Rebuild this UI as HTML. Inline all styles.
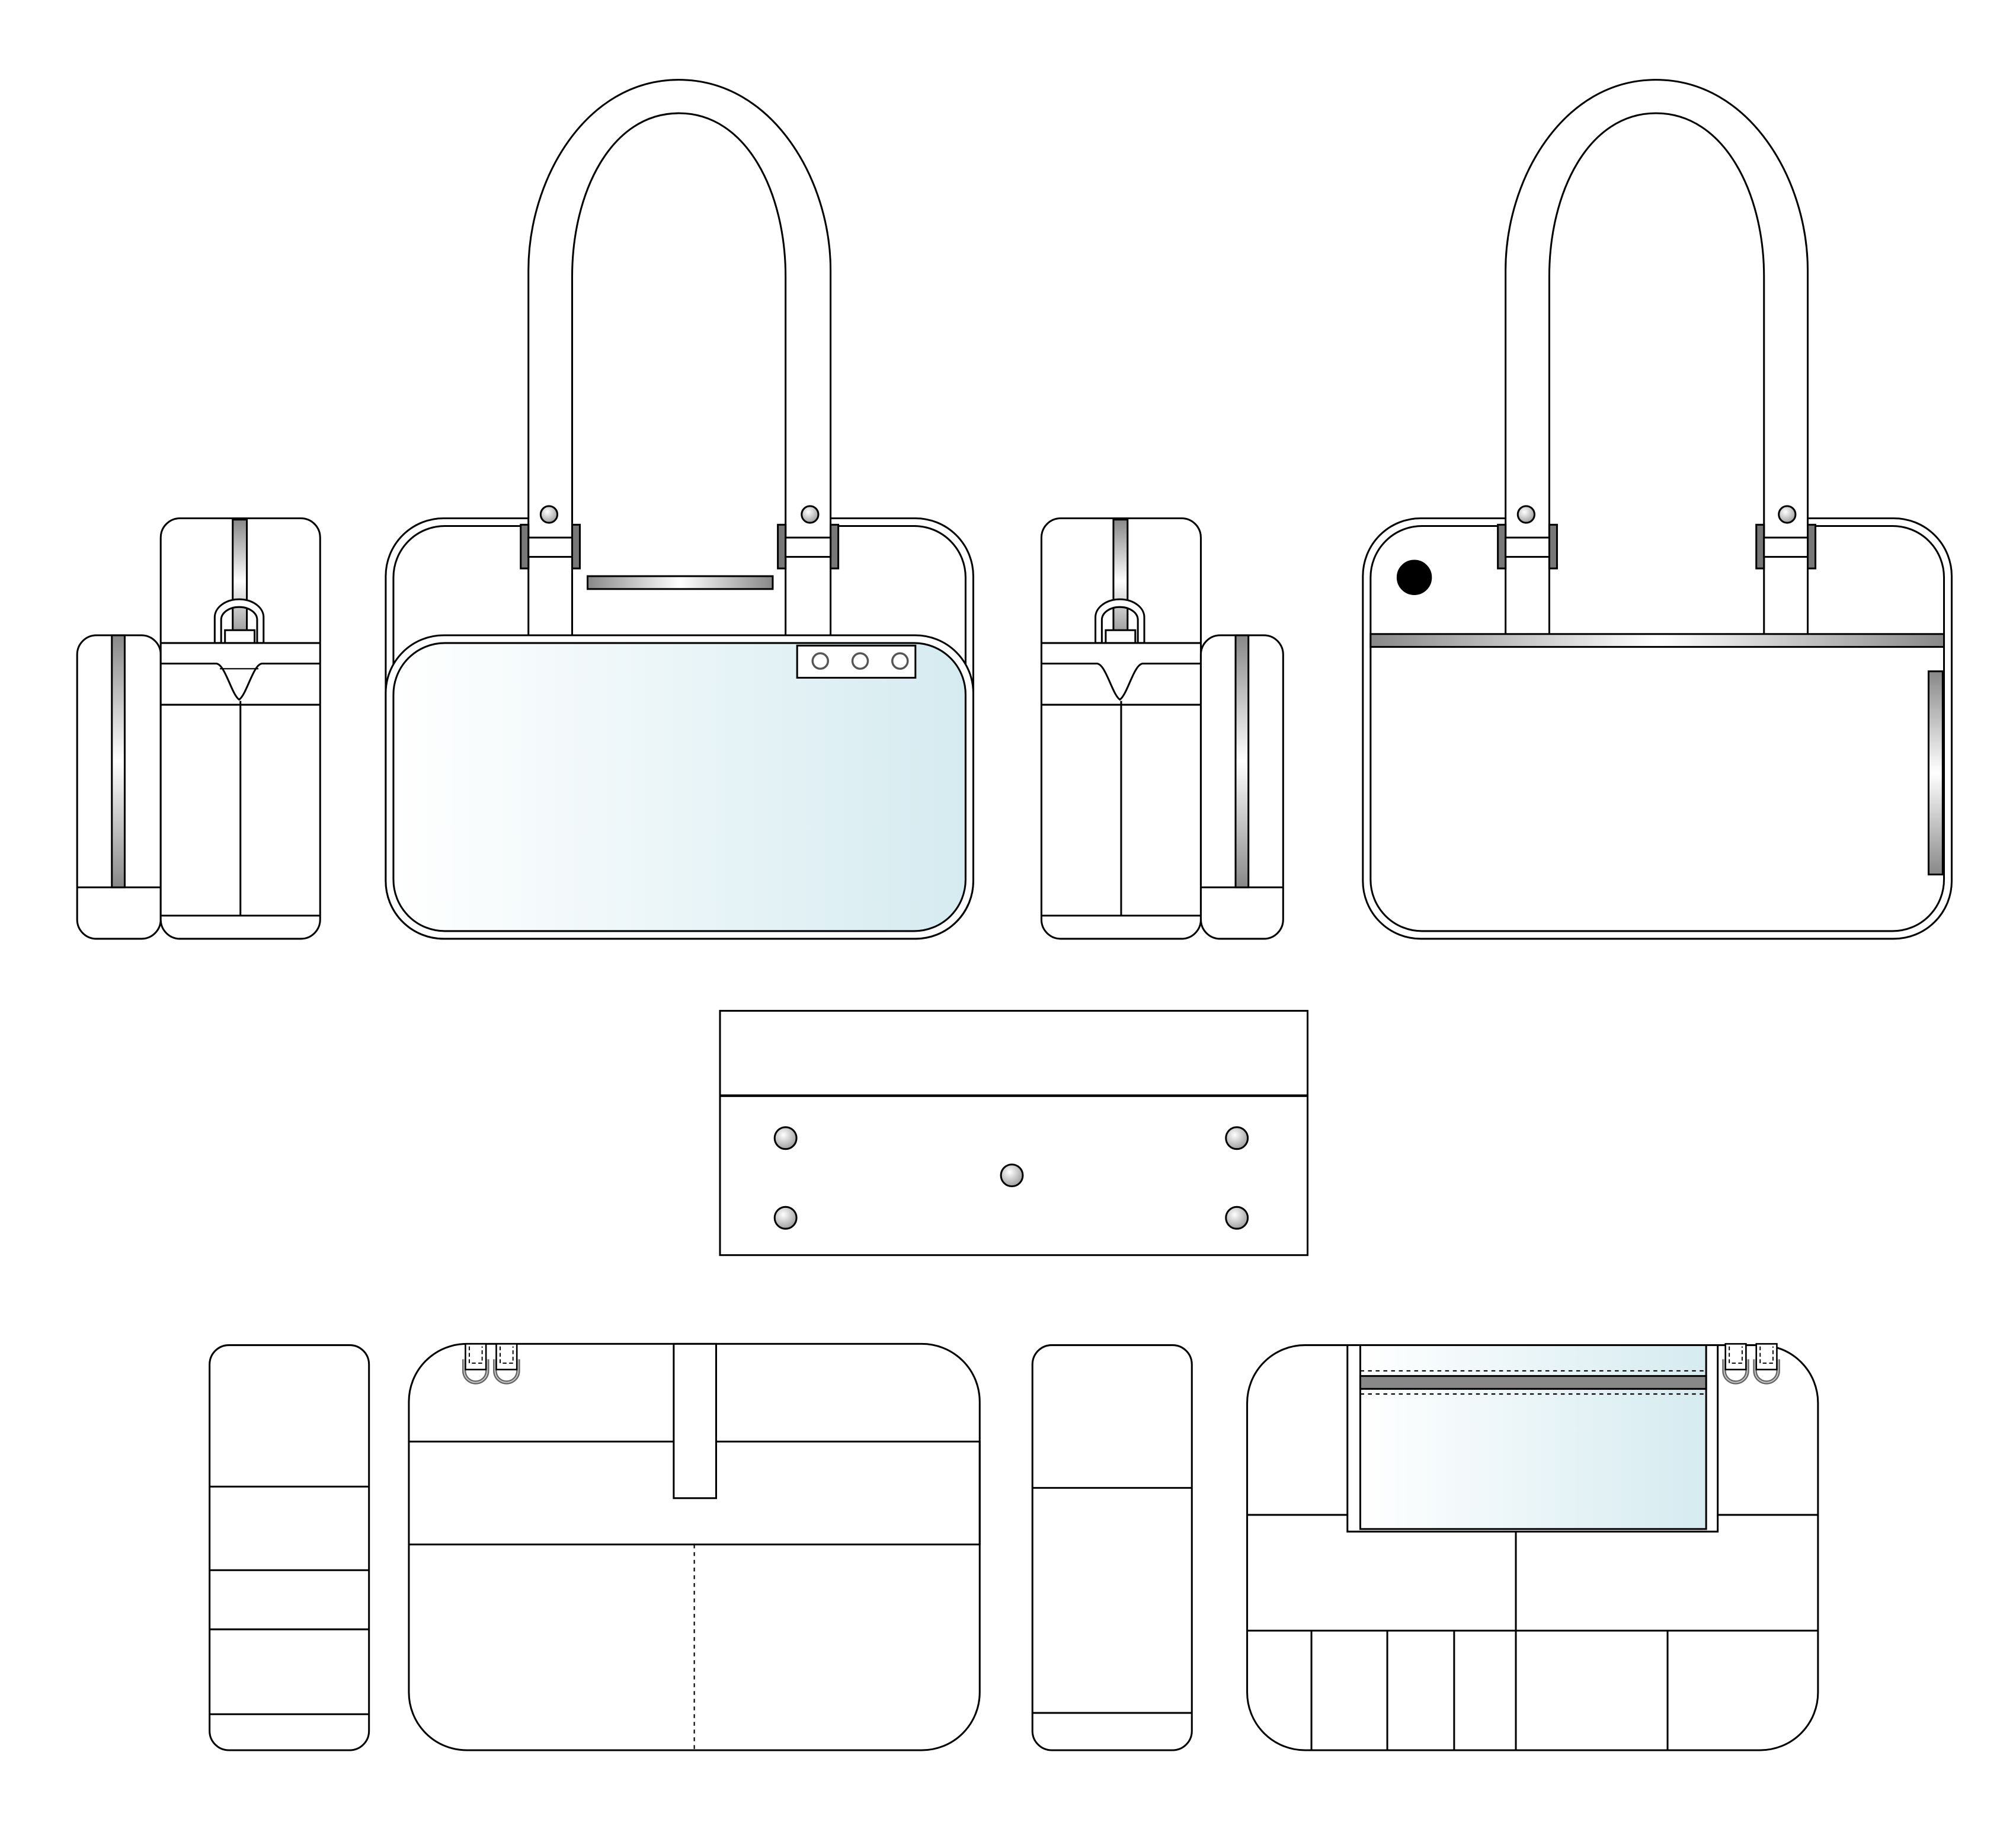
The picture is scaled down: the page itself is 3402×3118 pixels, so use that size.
<!DOCTYPE html>
<html><head><meta charset="utf-8">
<style>html,body{margin:0;padding:0;background:#fff}svg{display:block}</style>
</head><body>
<svg width="3402" height="3118" viewBox="0 0 1568 1437" xmlns="http://www.w3.org/2000/svg" fill="none" stroke="#000" stroke-width="1.4">
<defs>
<linearGradient id="gv" x1="0" y1="0" x2="0" y2="1"><stop offset="0" stop-color="#888"/><stop offset="0.5" stop-color="#fff"/><stop offset="1" stop-color="#888"/></linearGradient>
<linearGradient id="gh" x1="0" y1="0" x2="1" y2="0"><stop offset="0" stop-color="#888"/><stop offset="0.5" stop-color="#fff"/><stop offset="1" stop-color="#888"/></linearGradient>
<linearGradient id="blue" x1="0" y1="0" x2="1" y2="0"><stop offset="0" stop-color="#fff"/><stop offset="1" stop-color="#d5ebf0"/></linearGradient>
<radialGradient id="dot" cx="0.4" cy="0.35" r="0.7"><stop offset="0" stop-color="#fff"/><stop offset="1" stop-color="#999"/></radialGradient>
<g id="dring">
<path d="M-9 12 V21 A9 9 0 0 0 9 21 V12" stroke="#666" stroke-width="3"/>
<path d="M-9 12 V21 A9 9 0 0 0 9 21 V12" stroke="#ccc" stroke-width="0.8"/>
<rect x="-8" y="0" width="16" height="20" fill="#fff" stroke="#000" stroke-width="1.2"/>
<path d="M-5 2 V15 H5 V2" stroke="#000" stroke-width="0.9" stroke-dasharray="3 2"/>
</g>
</defs>
<rect width="1568" height="1437" fill="#fff" stroke="none"/>

<!-- LEFT SIDE VIEW -->
<rect x="60" y="494" width="65" height="236" rx="15" fill="#fff"/>
<line x1="60" y1="690" x2="125" y2="690"/>
<rect x="87" y="494" width="10" height="196" fill="url(#gv)"/>
<rect x="125" y="403" width="124" height="327" rx="15" fill="#fff"/>
<rect x="181" y="404" width="11" height="96" fill="url(#gv)"/>
<path d="M167 500 V480 A19 14 0 0 1 205 480 V500 H200 V482 A14 10 0 0 0 172 482 V500 Z" fill="#fff"/>
<rect x="175" y="490" width="23" height="10" fill="#fff"/>
<line x1="125" y1="500" x2="249" y2="500"/>
<path d="M125 516 H168 C175 516 180 540 186 544 C192 540 197 516 204 516 H249"/>
<line x1="171" y1="520" x2="201" y2="520" stroke-width="1"/>
<line x1="125" y1="548" x2="249" y2="548"/>
<line x1="187" y1="545" x2="187" y2="712"/>
<line x1="125" y1="712" x2="249" y2="712"/>

<!-- FRONT BAG -->
<rect x="300" y="403" width="457" height="327" rx="45" fill="#fff"/>
<rect x="306" y="409" width="445" height="315" rx="40"/>
<path d="M411 494 V210 C411 140 455 62 528 62 C601 62 646 140 646 210 V494" fill="#fff"/>
<path d="M445 494 V215 C445 150 475 88 528 88 C581 88 611 150 611 215 V494"/>
<rect x="405" y="408" width="6" height="34" fill="#777"/><rect x="445" y="408" width="6" height="34" fill="#777"/>
<rect x="605" y="408" width="6" height="34" fill="#777"/><rect x="646" y="408" width="6" height="34" fill="#777"/>
<rect x="411" y="418" width="34" height="15" fill="#fff"/><rect x="611" y="418" width="35" height="15" fill="#fff"/>
<circle cx="427" cy="400" r="6.5" fill="url(#dot)"/><circle cx="630" cy="400" r="6.5" fill="url(#dot)"/>
<rect x="457" y="448" width="144" height="10" fill="url(#gh)"/>
<rect x="300" y="494" width="457" height="236" rx="45" fill="#fff"/>
<rect x="306" y="500" width="445" height="224" rx="40" fill="url(#blue)"/>
<rect x="620" y="502" width="92" height="25" fill="#fff"/>
<g stroke="#555" stroke-width="1.6" fill="#fff"><circle cx="638" cy="514" r="6"/><circle cx="669" cy="514" r="6"/><circle cx="700" cy="514" r="6"/></g>

<!-- RIGHT SIDE VIEW -->
<rect x="810" y="403" width="124" height="327" rx="15" fill="#fff"/>
<rect x="866" y="404" width="11" height="96" fill="url(#gv)"/>
<path d="M852 500 V480 A19 14 0 0 1 890 480 V500 H885 V482 A14 10 0 0 0 857 482 V500 Z" fill="#fff"/>
<rect x="860" y="490" width="23" height="10" fill="#fff"/>
<line x1="810" y1="500" x2="934" y2="500"/>
<path d="M810 516 H853 C860 516 865 540 871 544 C877 540 882 516 889 516 H934"/>
<line x1="810" y1="548" x2="934" y2="548"/>
<line x1="872" y1="545" x2="872" y2="712"/>
<line x1="810" y1="712" x2="934" y2="712"/>
<rect x="934" y="494" width="64" height="236" rx="15" fill="#fff"/>
<line x1="934" y1="690" x2="998" y2="690"/>
<rect x="961" y="494" width="10" height="196" fill="url(#gv)"/>

<!-- BACK BAG -->
<rect x="1060" y="403" width="458" height="327" rx="45" fill="#fff"/>
<rect x="1066" y="409" width="446" height="315" rx="40"/>
<path d="M1171 494 V210 C1171 140 1215 62 1288 62 C1361 62 1406 140 1406 210 V494" fill="#fff"/>
<path d="M1205 494 V215 C1205 150 1235 88 1288 88 C1341 88 1372 150 1372 215 V494"/>
<rect x="1165" y="408" width="6" height="34" fill="#777"/><rect x="1205" y="408" width="6" height="34" fill="#777"/>
<rect x="1366" y="408" width="6" height="34" fill="#777"/><rect x="1406" y="408" width="6" height="34" fill="#777"/>
<rect x="1171" y="418" width="34" height="15" fill="#fff"/><rect x="1372" y="418" width="34" height="15" fill="#fff"/>
<circle cx="1187" cy="400" r="6.5" fill="url(#dot)"/><circle cx="1390" cy="400" r="6.5" fill="url(#dot)"/>
<circle cx="1100" cy="449" r="13" fill="#000"/>
<rect x="1066" y="493" width="446" height="10" fill="url(#gh)"/>
<rect x="1500" y="522" width="11" height="158" fill="url(#gv)"/>

<!-- MIDDLE BOTTOM PANEL -->
<rect x="560" y="786" width="457" height="190" fill="#fff"/>
<line x1="560" y1="852" x2="1017" y2="852" stroke-width="2"/>
<g fill="url(#dot)"><circle cx="611" cy="885" r="8.5"/><circle cx="962" cy="885" r="8.5"/><circle cx="787" cy="914" r="8.5"/><circle cx="611" cy="947" r="8.5"/><circle cx="962" cy="947" r="8.5"/></g>

<!-- BOTTOM ROW -->
<rect x="163" y="1046" width="124" height="315" rx="15" fill="#fff"/>
<line x1="163" y1="1156" x2="287" y2="1156"/><line x1="163" y1="1221" x2="287" y2="1221"/>
<line x1="163" y1="1267" x2="287" y2="1267"/><line x1="163" y1="1333" x2="287" y2="1333"/>

<rect x="318" y="1045" width="444" height="316" rx="45" fill="#fff"/>
<path d="M318 1121 H762 V1201 H318"/>
<rect x="524" y="1045" width="33" height="120" fill="#fff"/>
<line x1="540" y1="1201" x2="540" y2="1361" stroke-dasharray="3 3" stroke-width="1"/>
<use href="#dring" x="370" y="1045"/><use href="#dring" x="394" y="1045"/>

<rect x="803" y="1046" width="124" height="315" rx="15" fill="#fff"/>
<line x1="803" y1="1157" x2="927" y2="1157"/><line x1="803" y1="1332" x2="927" y2="1332"/>

<rect x="970" y="1046" width="444" height="315" rx="45" fill="#fff"/>
<line x1="970" y1="1178" x2="1414" y2="1178"/>
<line x1="1179" y1="1178" x2="1179" y2="1361"/>
<line x1="970" y1="1268" x2="1414" y2="1268"/>
<line x1="1020" y1="1268" x2="1020" y2="1361"/><line x1="1079" y1="1268" x2="1079" y2="1361"/>
<line x1="1131" y1="1268" x2="1131" y2="1361"/><line x1="1297" y1="1268" x2="1297" y2="1361"/>
<rect x="1048" y="1046" width="288" height="145" fill="#fff"/>
<rect x="1058" y="1046" width="269" height="143" fill="url(#blue)"/>
<line x1="1058" y1="1066" x2="1327" y2="1066" stroke-dasharray="3 3" stroke-width="1"/>
<line x1="1058" y1="1084" x2="1327" y2="1084" stroke-dasharray="3 3" stroke-width="1"/>
<rect x="1058" y="1070" width="269" height="10" fill="#888"/>
<use href="#dring" x="1350" y="1045"/><use href="#dring" x="1374" y="1045"/>
</svg>
</body></html>
